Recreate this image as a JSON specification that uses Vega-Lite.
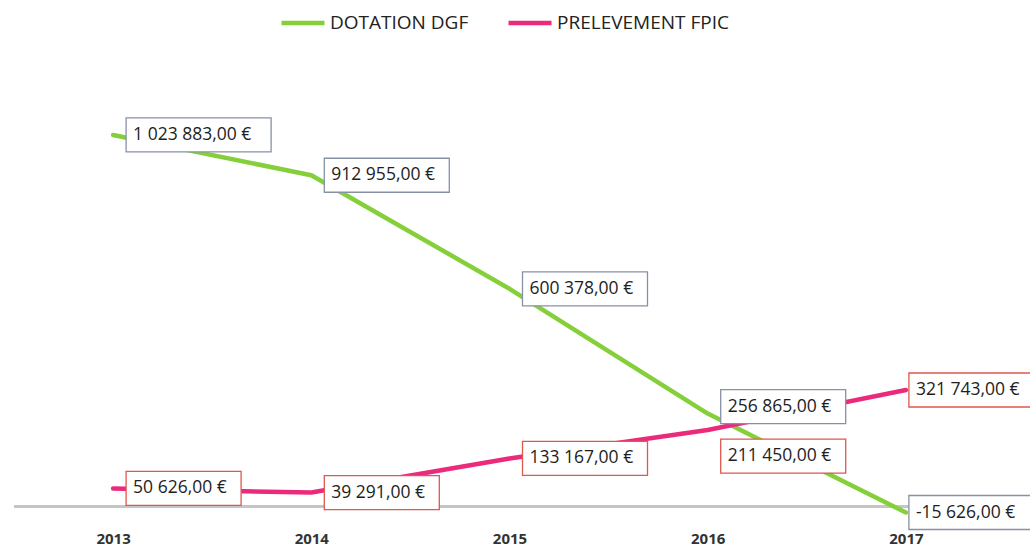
{
  "$schema": "https://vega.github.io/schema/vega-lite/v6.json",
  "width": 991,
  "height": 454,
  "autosize": {"type": "none"},
  "padding": {"left": 14, "top": 71, "right": 25, "bottom": 21},
  "config": {
    "view": {"stroke": null},
    "font": "Open Sans",
    "locale": {"number": {"decimal": ",", "thousands": " ", "grouping": [3], "currency": ["", " €"], "minus": "-"}}
  },
  "data": {
    "values": [
      {"year": 2013, "series": "DOTATION DGF", "value": 1023883},
      {"year": 2014, "series": "DOTATION DGF", "value": 912955},
      {"year": 2015, "series": "DOTATION DGF", "value": 600378},
      {"year": 2016, "series": "DOTATION DGF", "value": 256865},
      {"year": 2017, "series": "DOTATION DGF", "value": -15626},
      {"year": 2013, "series": "PRELEVEMENT FPIC", "value": 50626},
      {"year": 2014, "series": "PRELEVEMENT FPIC", "value": 39291},
      {"year": 2015, "series": "PRELEVEMENT FPIC", "value": 133167},
      {"year": 2016, "series": "PRELEVEMENT FPIC", "value": 211450},
      {"year": 2017, "series": "PRELEVEMENT FPIC", "value": 321743}
    ]
  },
  "layer": [
    {
      "mark": {"type": "rule", "color": "#c4c4c4", "strokeWidth": 2},
      "encoding": {"y": {"datum": 0, "type": "quantitative", "scale": {"domain": [-50000, 1200000], "nice": false}, "axis": null}}
    },
    {
      "mark": {"type": "line", "interpolate": "linear", "strokeWidth": 4.5, "strokeCap": "round", "strokeJoin": "round"},
      "encoding": {
        "x": {
          "field": "year", "type": "ordinal",
          "scale": {"type": "point", "padding": 0.5},
          "axis": {"title": null, "domain": false, "ticks": false, "tickSize": 0, "labelPadding": 6, "labelAngle": 0, "labelFontSize": 15, "labelFontWeight": "bold", "labelColor": "#333333", "grid": false}
        },
        "y": {"field": "value", "type": "quantitative", "scale": {"domain": [-50000, 1200000], "nice": false}, "axis": null},
        "color": {
          "field": "series", "type": "nominal",
          "scale": {"domain": ["DOTATION DGF", "PRELEVEMENT FPIC"], "range": ["#85d03a", "#ec2a7c"]},
          "legend": {
            "title": null, "orient": "none", "direction": "horizontal",
            "legendX": 265, "legendY": -72,
            "symbolType": "stroke", "symbolSize": 1849, "symbolStrokeWidth": 4.5,
            "labelFontSize": 19, "labelColor": "#222222", "labelOffset": 3, "labelLimit": 400, "columnPadding": 30
          }
        }
      }
    },
    {
      "mark": {
        "type": "rect", "fill": "white", "strokeWidth": 1.3,
        "xOffset": {"expr": "datum.year == 2017 ? 3 : 13"},
        "x2Offset": {"expr": "(datum.year == 2017 ? 3 : 13) + 10 * length(format(datum.value, ',.2f')) + 25"},
        "yOffset": {"expr": "-17 + (datum.year == 2016 ? (datum.series == 'DOTATION DGF' ? -7 : 26) : 0)"},
        "y2Offset": {"expr": "17 + (datum.year == 2016 ? (datum.series == 'DOTATION DGF' ? -7 : 26) : 0)"}
      },
      "encoding": {
        "x": {"field": "year", "type": "ordinal"},
        "x2": {"field": "year"},
        "y": {"field": "value", "type": "quantitative"},
        "y2": {"field": "value"},
        "stroke": {
          "field": "series", "type": "nominal",
          "scale": {"domain": ["DOTATION DGF", "PRELEVEMENT FPIC"], "range": ["#8791a6", "#e0574d"]},
          "legend": null
        }
      }
    },
    {
      "mark": {
        "type": "text", "align": "left", "baseline": "middle", "fontSize": 17.5, "color": "#1e1e1e",
        "dx": {"expr": "datum.year == 2017 ? 10 : 20"},
        "dy": {"expr": "datum.year == 2016 ? (datum.series == 'DOTATION DGF' ? -7 : 26) : 0"}
      },
      "encoding": {
        "x": {"field": "year", "type": "ordinal"},
        "y": {"field": "value", "type": "quantitative"},
        "text": {"field": "value", "type": "quantitative", "format": "$,.2f"}
      }
    }
  ]
}
